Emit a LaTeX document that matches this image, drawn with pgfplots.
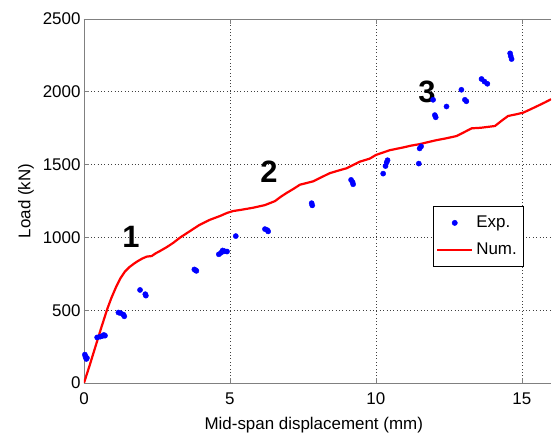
\documentclass[border=0pt]{standalone}
\usepackage{fontspec}
\setmainfont{Liberation Sans}
\usepackage{pgfplots}
\pgfplotsset{compat=1.18}

% experimental points (clusters of repeated readings)
\pgfplotstableread{
x y
0.03 195
0.05 180
0.08 165
0.10 172
0.45 313
0.55 318
0.62 322
0.68 330
0.72 325
1.18 484
1.25 480
1.35 470
1.38 458
1.92 639
2.10 610
2.12 600
3.78 780
3.85 770
3.82 775
4.62 884
4.70 895
4.75 910
4.82 905
4.90 903
5.20 1009
6.20 1057
6.28 1050
6.31 1041
7.80 1235
7.82 1220
9.15 1395
9.20 1380
9.22 1365
10.25 1438
10.33 1490
10.37 1515
10.40 1530
11.47 1507
11.50 1611
11.55 1625
11.96 1945
12.02 1840
12.05 1825
12.42 1899
12.93 2014
13.05 1945
13.10 1935
13.62 2088
13.72 2070
13.82 2055
14.60 2264
14.62 2245
14.65 2225
}\expdata

% numerical curve
\pgfplotstableread{
x y
0 0
0.20 125
0.40 255
0.60 385
0.80 510
0.95 590
1.10 660
1.25 720
1.40 765
1.55 795
1.70 818
1.85 838
2.00 855
2.15 868
2.32 872
2.45 890
2.60 906
2.85 935
3.06 963
3.30 1000
3.63 1043
3.95 1085
4.30 1120
4.66 1147
4.90 1168
5.11 1181
5.40 1190
5.80 1204
6.20 1222
6.54 1249
6.75 1280
6.94 1305
7.15 1330
7.40 1362
7.60 1372
7.85 1385
8.10 1410
8.42 1441
8.70 1458
9.00 1475
9.25 1500
9.45 1520
9.79 1541
10.00 1566
10.20 1580
10.48 1599
10.94 1618
11.20 1630
11.51 1641
11.80 1655
12.08 1668
12.40 1680
12.76 1696
13.00 1720
13.28 1749
13.60 1753
14.08 1765
14.30 1800
14.53 1834
14.80 1845
15.05 1857
15.30 1880
15.50 1899
15.80 1928
16.00 1949
}\numdata

\begin{document}
\begin{tikzpicture}
\begin{axis}[
  scale only axis, width=467bp, height=364bp,
  xmin=0, xmax=16, ymin=0, ymax=2500,
  xtick={0,5,10,15}, ytick={0,500,1000,1500,2000,2500},
  axis x line=box, axis y line=left,
  axis line style={-, black!50, line width=0.7bp},
  tick align=inside, major tick length=5bp,
  tick style={black!50, line width=0.6bp},
  grid=major,
  grid style={black!75, line width=0.6bp, dash pattern=on 0.8bp off 2.6bp},
  /pgf/number format/assume math mode=true,
  scaled ticks=false,
  /pgf/number format/1000 sep={},
  ticklabel style={font=\fontsize{17}{20}\selectfont},
  xticklabel style={yshift=-6bp},
  xlabel={Mid-span displacement (mm)},
  ylabel={Load (kN)},
  label style={font=\fontsize{17}{20}\selectfont},
  xlabel style={at={(axis description cs:0.492,-0.085)}, anchor=north},
  ylabel style={at={(axis description cs:-0.100,0.5)}, anchor=south},
  legend style={at={(0.747,0.486)}, anchor=north west, draw=black,
    line width=0.6bp, fill=white, font=\fontsize{17}{20}\selectfont,
    inner xsep=3bp, inner ysep=3bp,
    nodes={text height=12.5bp, text depth=3.5bp, inner ysep=5.5bp, inner xsep=3bp}},
  legend cell align=left,
]
\addplot[only marks, mark=*, mark size=2.6bp, color=blue,
  legend image code/.code={\fill[blue] (17.5bp,0bp) circle (2.6bp);}]
  table[x=x, y=y] {\expdata};
\addlegendentry{Exp.}
\addplot[red, line width=2.2bp, no marks,
  legend image code/.code={\draw[red, line width=2.2bp] (0bp,0bp) -- (35bp,0bp);}]
  table[x=x, y=y] {\numdata};
\addlegendentry{Num.}
\draw[black, line width=0.7bp] (rel axis cs:0,0) -- (rel axis cs:1,0);
\node[font=\bfseries\fontsize{31}{31}\selectfont] at (axis cs:1.61,1005) {1};
\node[font=\bfseries\fontsize{31}{31}\selectfont] at (axis cs:6.34,1450) {2};
\node[font=\bfseries\fontsize{31}{31}\selectfont] at (axis cs:11.75,2000) {3};
\coordinate (bl) at (rel axis cs:0,0);
\coordinate (tr) at (rel axis cs:1,1);
\end{axis}
\pgfresetboundingbox
\path ([xshift=-84bp,yshift=-54bp]bl) rectangle ([xshift=1bp,yshift=19bp]tr);
\end{tikzpicture}
\end{document}
